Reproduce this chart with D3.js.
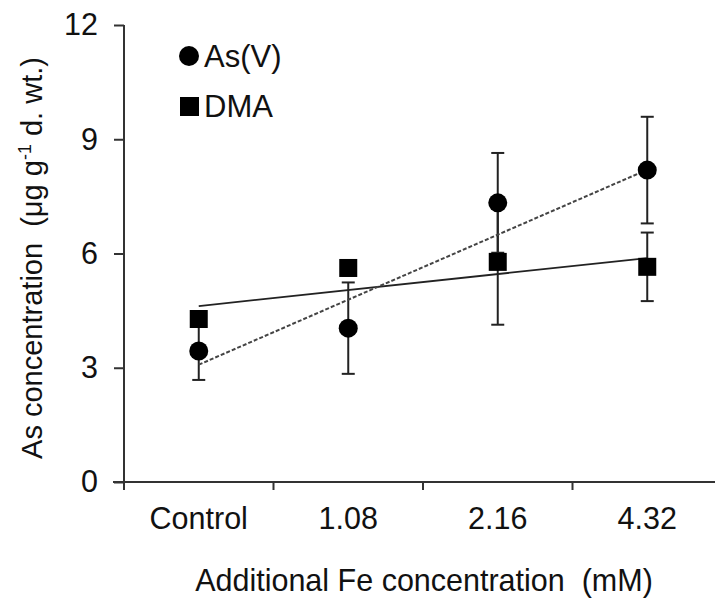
<!DOCTYPE html>
<html>
<head>
<meta charset="utf-8">
<script src="https://cdn.jsdelivr.net/npm/d3@7"></script>
<style>
  body { margin: 0; background: #fff; }
  text { font-family: "Liberation Sans", Arial, sans-serif; fill: #111; }
</style>
</head>
<body>
<svg id="chart"></svg>
<script>
// 数据
const categories = ["Control", "1.08", "2.16", "4.32"];
const asV = [3.44, 4.04, 7.33, 8.19];
const asVErr = [0.76, 1.2, 1.31, 1.4];
const dma = [4.28, 5.62, 5.78, 5.65];
const dmaErr = [0.2, 0.2, 1.65, 0.9];
// 趋势线两端 (Control, 4.32)
const asVTrend = [3.08, 8.2];
const dmaTrend = [4.62, 5.88];
const yTicks = [0, 3, 6, 9, 12];

const width = 715, height = 603;
const svg = d3.select("#chart").attr("width", width).attr("height", height);

const xScale = d3.scaleBand().domain(categories).range([124, 722]);
const xPos = (c) => xScale(c) + xScale.bandwidth() / 2;
const yScale = d3.scaleLinear().domain([0, 12]).range([482, 25]);

// 坐标轴
const yAxis = svg.append("g")
  .attr("transform", "translate(124,0)")
  .call(d3.axisLeft(yScale).tickValues(yTicks).tickSize(10).tickPadding(16).tickFormat(d3.format("d")));
yAxis.select(".domain").attr("d", `M0,${yScale(12)}V${yScale(0) + 8}`);
yAxis.selectAll("line").attr("stroke", "#333").attr("stroke-width", 2);
yAxis.select(".domain").attr("stroke", "#333").attr("stroke-width", 2);
yAxis.selectAll("text").attr("font-size", 30.5).attr("fill", "#111");

const xAxis = svg.append("g").attr("transform", `translate(0,${yScale(0)})`);
xAxis.append("line").attr("x1", 113).attr("x2", 715).attr("stroke", "#333").attr("stroke-width", 2);
xAxis.selectAll(".tk").data(d3.range(categories.length + 1)).enter().append("line")
  .attr("x1", (i) => xScale.range()[0] + i * xScale.step())
  .attr("x2", (i) => xScale.range()[0] + i * xScale.step())
  .attr("y1", 0).attr("y2", 8)
  .attr("stroke", "#333").attr("stroke-width", 2);
xAxis.selectAll(".lbl").data(categories).enter().append("text")
  .attr("x", (d) => xPos(d)).attr("y", 47)
  .attr("text-anchor", "middle").attr("font-size", 30.5)
  .text((d) => d);

svg.append("text")
  .attr("x", 424).attr("y", 591)
  .attr("text-anchor", "middle").attr("font-size", 30.5)
  .attr("xml:space", "preserve")
  .text("Additional Fe concentration  (mM)");

const yTitle = svg.append("text")
  .attr("transform", "translate(42,258) rotate(-90)")
  .attr("text-anchor", "middle").attr("font-size", 29)
  .attr("xml:space", "preserve");
yTitle.append("tspan").text("As concentration  (μg g");
yTitle.append("tspan").attr("font-size", 18).attr("dy", -11).text("-1");
yTitle.append("tspan").attr("dy", 11).text(" d. wt.)");

// 误差线
function errorBars(vals, errs) {
  const g = svg.append("g").attr("stroke", "#222").attr("stroke-width", 2);
  categories.forEach((c, i) => {
    const x = xPos(c);
    const y1 = yScale(vals[i] - errs[i]), y2 = yScale(vals[i] + errs[i]);
    g.append("line").attr("x1", x).attr("x2", x).attr("y1", y1).attr("y2", y2);
    g.append("line").attr("x1", x - 6.5).attr("x2", x + 6.5).attr("y1", y1).attr("y2", y1);
    g.append("line").attr("x1", x - 6.5).attr("x2", x + 6.5).attr("y1", y2).attr("y2", y2);
  });
}
errorBars(asV, asVErr);
errorBars(dma, dmaErr);

// 趋势线
const first = categories[0], last = categories[categories.length - 1];
svg.append("line")
  .attr("x1", xPos(first)).attr("x2", xPos(last))
  .attr("y1", yScale(dmaTrend[0])).attr("y2", yScale(dmaTrend[1]))
  .attr("stroke", "#222").attr("stroke-width", 1.8);
svg.append("line")
  .attr("x1", xPos(first)).attr("x2", xPos(last))
  .attr("y1", yScale(asVTrend[0])).attr("y2", yScale(asVTrend[1]))
  .attr("stroke", "#444").attr("stroke-width", 2).attr("stroke-dasharray", "4,2");

// 数据点
svg.selectAll(".dma").data(dma).enter().append("rect")
  .attr("x", (d, i) => xPos(categories[i]) - 9)
  .attr("y", (d) => yScale(d) - 9)
  .attr("width", 18).attr("height", 18).attr("fill", "#000");
svg.selectAll(".asv").data(asV).enter().append("circle")
  .attr("cx", (d, i) => xPos(categories[i]))
  .attr("cy", (d) => yScale(d))
  .attr("r", 9.5).attr("fill", "#000");

// 图例
const legend = svg.append("g");
legend.append("circle").attr("cx", 189).attr("cy", 56).attr("r", 10).attr("fill", "#000");
legend.append("text").attr("x", 204).attr("y", 67).attr("font-size", 31).text("As(V)");
legend.append("rect").attr("x", 180).attr("y", 97).attr("width", 19).attr("height", 19).attr("fill", "#000");
legend.append("text").attr("x", 204).attr("y", 117).attr("font-size", 31).text("DMA");
</script>
</body>
</html>
